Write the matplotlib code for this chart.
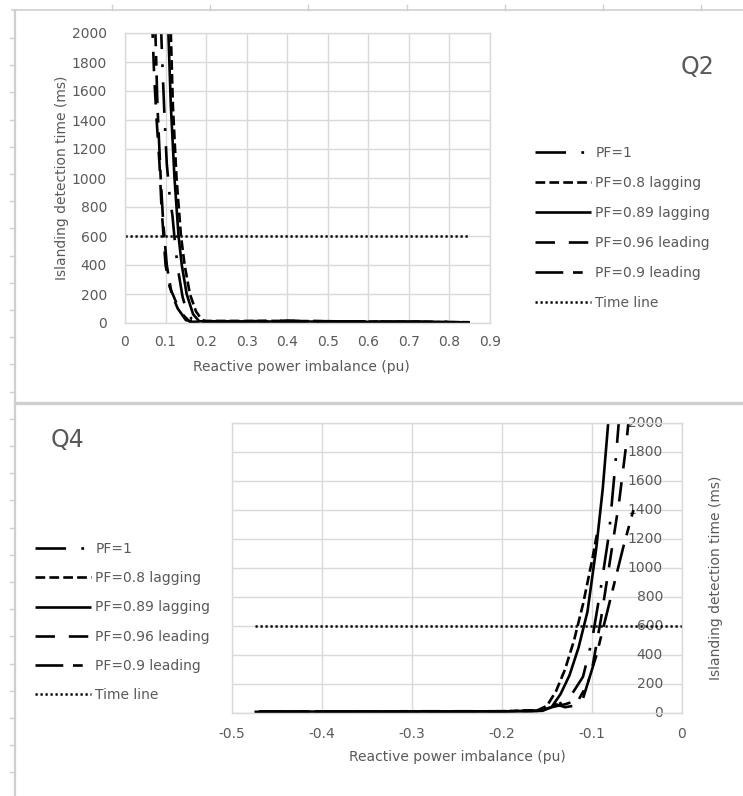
import matplotlib
matplotlib.use("Agg")
import matplotlib.pyplot as plt
from matplotlib.lines import Line2D
from matplotlib.transforms import blended_transform_factory

plt.rcParams['font.family'] = ['DejaVu Sans']
plt.rcParams['lines.scale_dashes'] = False

W, H = 743, 796
DPI = 100

series_labels = ["PF=1", "PF=0.8 lagging", "PF=0.89 lagging", "PF=0.96 leading", "PF=0.9 leading"]
time_line_label = "Time line"
time_line_value = 600

# ---------------- Q2 data ----------------
q2_pf1_x = [0.088, 0.092, 0.097, 0.103, 0.110, 0.117, 0.125, 0.133, 0.142, 0.152, 0.165, 0.18, 0.2, 0.3, 0.4, 0.5, 0.6, 0.7, 0.8, 0.85]
q2_pf1_y = [2100, 1800, 1450, 1100, 880, 740, 500, 330, 180, 80, 25, 12, 12, 12, 12, 10, 10, 8, 8, 5]
q2_pf08lag_x = [0.110, 0.113, 0.118, 0.127, 0.138, 0.147, 0.160, 0.175, 0.190, 0.2, 0.3, 0.4, 0.5, 0.6, 0.7, 0.8, 0.85]
q2_pf08lag_y = [2100, 2000, 1500, 1000, 600, 400, 200, 80, 20, 14, 14, 14, 12, 10, 8, 6, 4]
q2_pf089lag_x = [0.104, 0.107, 0.113, 0.122, 0.132, 0.140, 0.152, 0.168, 0.183, 0.2, 0.3, 0.4, 0.5, 0.6, 0.7, 0.8, 0.84]
q2_pf089lag_y = [2100, 2000, 1500, 1000, 600, 400, 200, 60, 12, 10, 10, 10, 10, 8, 8, 6, 4]
q2_pf096lead_x = [0.066, 0.068, 0.072, 0.078, 0.085, 0.090, 0.095, 0.100, 0.110, 0.125, 0.145, 0.160, 0.2, 0.3, 0.4, 0.5, 0.6, 0.7, 0.8]
q2_pf096lead_y = [2100, 2000, 1700, 1400, 1100, 800, 600, 400, 250, 150, 50, 8, 10, 12, 16, 12, 10, 8, 6]
q2_pf09lead_x = [0.073, 0.075, 0.080, 0.088, 0.094, 0.103, 0.115, 0.130, 0.150, 0.165, 0.2, 0.3, 0.4, 0.5, 0.6, 0.7, 0.8, 0.85]
q2_pf09lead_y = [2100, 2000, 1500, 1000, 700, 400, 200, 100, 20, 10, 10, 10, 10, 10, 8, 8, 6, 4]
q2_time_x = [0.0, 0.85]

# ---------------- Q4 data ----------------
q4_pf1_x = [-0.47, -0.4, -0.3, -0.2, -0.16, -0.15, -0.13, -0.123, -0.11, -0.10, -0.09, -0.081, -0.074, -0.069]
q4_pf1_y = [8, 10, 10, 12, 15, 30, 80, 124, 250, 500, 870, 1240, 1720, 2100]
q4_pf08lag_x = [-0.47, -0.4, -0.3, -0.2, -0.16, -0.15, -0.14, -0.13, -0.12, -0.11, -0.10, -0.094]
q4_pf08lag_y = [10, 10, 10, 12, 20, 50, 150, 300, 500, 750, 1050, 1250]
q4_pf089lag_x = [-0.46, -0.4, -0.3, -0.2, -0.155, -0.145, -0.135, -0.125, -0.115, -0.105, -0.095, -0.088, -0.082, -0.079]
q4_pf089lag_y = [8, 10, 10, 10, 15, 40, 130, 260, 450, 700, 1150, 1550, 2000, 2200]
q4_pf096lead_x = [-0.475, -0.4, -0.3, -0.2, -0.16, -0.14, -0.13, -0.12, -0.11, -0.10, -0.09, -0.08, -0.07, -0.062, -0.058]
q4_pf096lead_y = [8, 10, 12, 12, 15, 60, 40, 50, 100, 300, 650, 1050, 1450, 1850, 2100]
q4_pf09lead_x = [-0.47, -0.4, -0.3, -0.2, -0.16, -0.145, -0.13, -0.115, -0.105, -0.095, -0.085, -0.075, -0.065, -0.054]
q4_pf09lead_y = [10, 10, 10, 10, 15, 40, 60, 90, 200, 400, 650, 900, 1150, 1400]
q4_time_x = [-0.475, 0.0]

y_ticks = [0, 200, 400, 600, 800, 1000, 1200, 1400, 1600, 1800, 2000]
q2_x_ticks = [0, 0.1, 0.2, 0.3, 0.4, 0.5, 0.6, 0.7, 0.8, 0.9]
q2_x_ticklabels = ["0", "0.1", "0.2", "0.3", "0.4", "0.5", "0.6", "0.7", "0.8", "0.9"]
q4_x_ticks = [-0.5, -0.4, -0.3, -0.2, -0.1, 0]
q4_x_ticklabels = ["-0.5", "-0.4", "-0.3", "-0.2", "-0.1", "0"]

xlabel = "Reactive power imbalance (pu)"
ylabel = "Islanding detection time (ms)"

# ---------------- styles ----------------
LW = 1.9
FS = 10
styles = [
    dict(color='black', lw=LW, dashes=(22, 11, 2, 11)),
    dict(color='black', lw=LW, dashes=(7, 3)),
    dict(color='black', lw=LW, ls='-'),
    dict(color='black', lw=LW, dashes=(14, 10)),
    dict(color='black', lw=LW, dashes=(20, 7, 7, 7)),
]
time_style = dict(color='black', lw=1.8, dashes=(1.6, 2.0))
TXT = '#595959'
GRID = '#d9d9d9'

fig = plt.figure(figsize=(W / DPI, H / DPI), dpi=DPI)

def fx(x):
    return x / W

def fy(y):
    return 1 - y / H

# frame of the screenshot
frame_c = '#cfcfcf'
fig.add_artist(Line2D([fx(15), fx(15)], [fy(10), fy(796)], color=frame_c, lw=1.6, transform=fig.transFigure))
fig.add_artist(Line2D([fx(12), fx(743)], [fy(10), fy(10)], color=frame_c, lw=1.2, transform=fig.transFigure))
fig.add_artist(Line2D([fx(15), fx(743)], [fy(403), fy(403)], color=frame_c, lw=2.4, transform=fig.transFigure))
for tx in [112, 210, 308, 407, 505, 603, 701]:
    fig.add_artist(Line2D([fx(tx), fx(tx)], [fy(10), fy(5)], color=frame_c, lw=1.0, transform=fig.transFigure))
ty = 38.0
while ty < 796:
    fig.add_artist(Line2D([fx(10), fx(15)], [fy(ty), fy(ty)], color=frame_c, lw=1.0, transform=fig.transFigure))
    ty += 27.2

def style_axes(ax):
    ax.set_facecolor('white')
    ax.grid(True, color=GRID, lw=1.0)
    ax.set_axisbelow(True)
    for s in ax.spines.values():
        s.set_color(GRID)
        s.set_linewidth(1.0)
    ax.tick_params(length=0, colors=TXT, labelsize=FS)
    ax.set_ylim(0, 2000)
    ax.set_yticks(y_ticks)

def plot_series(ax, xs, ys, lab, st):
    ln, = ax.plot(xs, ys, label=lab, color=st['color'], lw=st['lw'], solid_capstyle='butt', dash_capstyle='butt')
    if 'dashes' in st:
        ln.set_dashes(st['dashes'])
    return ln

AX_H = 290

# ---------------- Q2 axes ----------------
ax1 = fig.add_axes([fx(125), fy(323), (490 - 125) / W, AX_H / H])
style_axes(ax1)
ax1.set_xlim(0, 0.9)
ax1.set_xticks(q2_x_ticks)
ax1.set_xticklabels(q2_x_ticklabels)
ax1.tick_params(axis='x', pad=9)
ax1.tick_params(axis='y', pad=13)
q2_data = [(q2_pf1_x, q2_pf1_y), (q2_pf08lag_x, q2_pf08lag_y), (q2_pf089lag_x, q2_pf089lag_y),
           (q2_pf096lead_x, q2_pf096lead_y), (q2_pf09lead_x, q2_pf09lead_y)]
for (xs, ys), lab, st in zip(q2_data, series_labels, styles):
    plot_series(ax1, xs, ys, lab, st)
plot_series(ax1, q2_time_x, [time_line_value] * 2, time_line_label, time_style)
ax1.set_xlabel(xlabel, color=TXT, fontsize=FS, va='center')
ax1.xaxis.set_label_coords((301 - 125) / 365, -(367 - 323) / AX_H)
ax1.set_ylabel(ylabel, color=TXT, fontsize=FS, va='center')
ax1.yaxis.set_label_coords((62 - 125) / 365, 0.5)
fig.text(fx(697), fy(67), "Q2", color=TXT, fontsize=17, ha='center', va='center')
h, l = ax1.get_legend_handles_labels()
fig.legend(h, l, loc='center left', bbox_to_anchor=(fx(535), fy(228)), frameon=False,
           fontsize=FS, labelcolor=TXT, handlelength=4.0, handletextpad=0.35,
           labelspacing=1.15, borderpad=0, borderaxespad=0)

# ---------------- Q4 axes ----------------
ax2 = fig.add_axes([fx(232), fy(713), (682 - 232) / W, AX_H / H])
style_axes(ax2)
ax2.set_xlim(-0.5, 0)
ax2.set_xticks(q4_x_ticks)
ax2.set_xticklabels(q4_x_ticklabels)
ax2.tick_params(axis='x', pad=10)
ax2.tick_params(axis='y', left=False, right=False, labelleft=False, labelright=False)
ytrans = blended_transform_factory(ax2.transAxes, ax2.transData)
for v in y_ticks:
    ax2.text((663 - 232) / 450, v, f"{v}", transform=ytrans, ha='right', va='center',
             color=TXT, fontsize=FS, zorder=1.5)
q4_data = [(q4_pf1_x, q4_pf1_y), (q4_pf08lag_x, q4_pf08lag_y), (q4_pf089lag_x, q4_pf089lag_y),
           (q4_pf096lead_x, q4_pf096lead_y), (q4_pf09lead_x, q4_pf09lead_y)]
for (xs, ys), lab, st in zip(q4_data, series_labels, styles):
    plot_series(ax2, xs, ys, lab, st)
plot_series(ax2, q4_time_x, [time_line_value] * 2, time_line_label, time_style)
ax2.set_xlabel(xlabel, color=TXT, fontsize=FS, va='center')
ax2.xaxis.set_label_coords(0.5, -(757 - 713) / AX_H)
fig.text(fx(716), fy(578), ylabel, color=TXT, fontsize=FS, rotation=90, ha='center', va='center')
fig.text(fx(68), fy(440), "Q4", color=TXT, fontsize=17, ha='center', va='center')
h, l = ax2.get_legend_handles_labels()
fig.legend(h, l, loc='center left', bbox_to_anchor=(fx(35), fy(622)), frameon=False,
           fontsize=FS, labelcolor=TXT, handlelength=4.0, handletextpad=0.35,
           labelspacing=1.1, borderpad=0, borderaxespad=0)

fig.savefig("out.png", dpi=DPI)
